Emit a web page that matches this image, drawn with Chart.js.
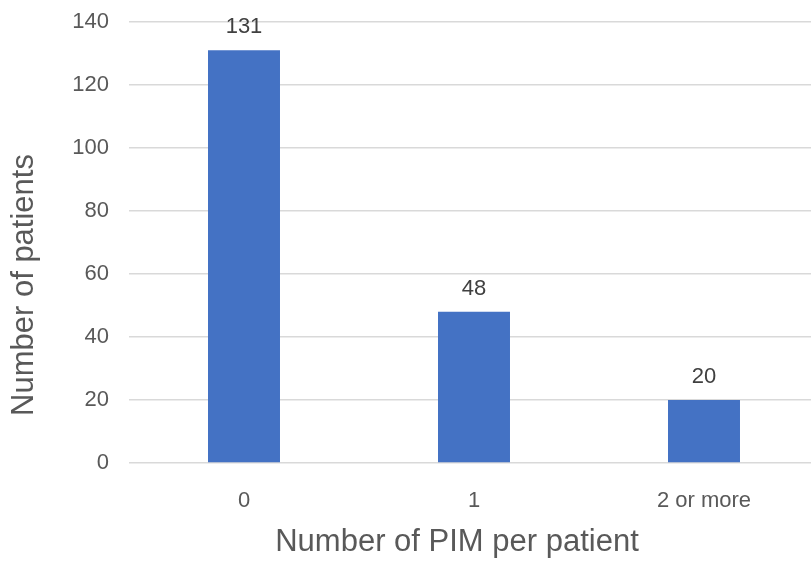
<!DOCTYPE html>
<html>
<head>
<meta charset="utf-8">
<script src="https://cdn.jsdelivr.net/npm/chart.js@4/dist/chart.umd.min.js"></script>
<style>
  html, body { margin: 0; padding: 0; background: #fff; overflow: hidden; }
</style>
</head>
<body>
<canvas id="pimChart" width="830" height="562"></canvas>
<script>
var categories = ['0', '1', '2 or more'];
var patients = [131, 48, 20];
var yTicks = [0, 20, 40, 60, 80, 100, 120, 140];

var FONT = '"Liberation Sans", Arial, Helvetica, sans-serif';

// value labels above the bars + axis titles
var labelsPlugin = {
  id: 'labelsPlugin',
  afterDatasetsDraw: function (chart) {
    var ctx = chart.ctx;
    var meta = chart.getDatasetMeta(0);
    ctx.save();
    ctx.font = '22px ' + FONT;
    ctx.fillStyle = '#404040';
    ctx.textAlign = 'center';
    ctx.textBaseline = 'alphabetic';
    meta.data.forEach(function (bar, i) {
      ctx.fillText(String(patients[i]), bar.x, bar.y - 17);
    });

    ctx.font = '31px ' + FONT;
    ctx.fillStyle = '#595959';
    ctx.fillText('Number of PIM per patient', 457, 551);

    ctx.translate(33, 285);
    ctx.rotate(-Math.PI / 2);
    ctx.fillText('Number of patients', 0, 0);
    ctx.restore();
  }
};

new Chart(document.getElementById('pimChart'), {
  type: 'bar',
  data: {
    labels: categories,
    datasets: [{
      data: patients,
      backgroundColor: '#4472C4',
      borderWidth: 0,
      barPercentage: 0.313,
      categoryPercentage: 1
    }]
  },
  options: {
    responsive: false,
    animation: false,
    layout: { padding: { top: 22, right: 11, left: 0, bottom: 0 } },
    plugins: {
      legend: { display: false },
      tooltip: { enabled: false }
    },
    scales: {
      x: {
        grid: { display: false },
        border: { display: false },
        ticks: {
          font: { family: FONT, size: 22 },
          color: '#595959',
          padding: 17
        },
        afterFit: function (scale) {
          scale.height = 99;
          scale.paddingLeft = 0;
          scale.paddingRight = 0;
        }
      },
      y: {
        min: 0,
        max: 140,
        afterBuildTicks: function (scale) {
          scale.ticks = yTicks.map(function (v) { return { value: v }; });
        },
        grid: { color: '#d9d9d9', lineWidth: 1.5, drawTicks: false },
        border: { display: false },
        ticks: {
          font: { family: FONT, size: 22 },
          color: '#595959',
          padding: 20
        },
        afterFit: function (scale) {
          scale.width = 129;
          scale.paddingTop = 0;
          scale.paddingBottom = 0;
        }
      }
    }
  },
  plugins: [labelsPlugin]
});
</script>
</body>
</html>
